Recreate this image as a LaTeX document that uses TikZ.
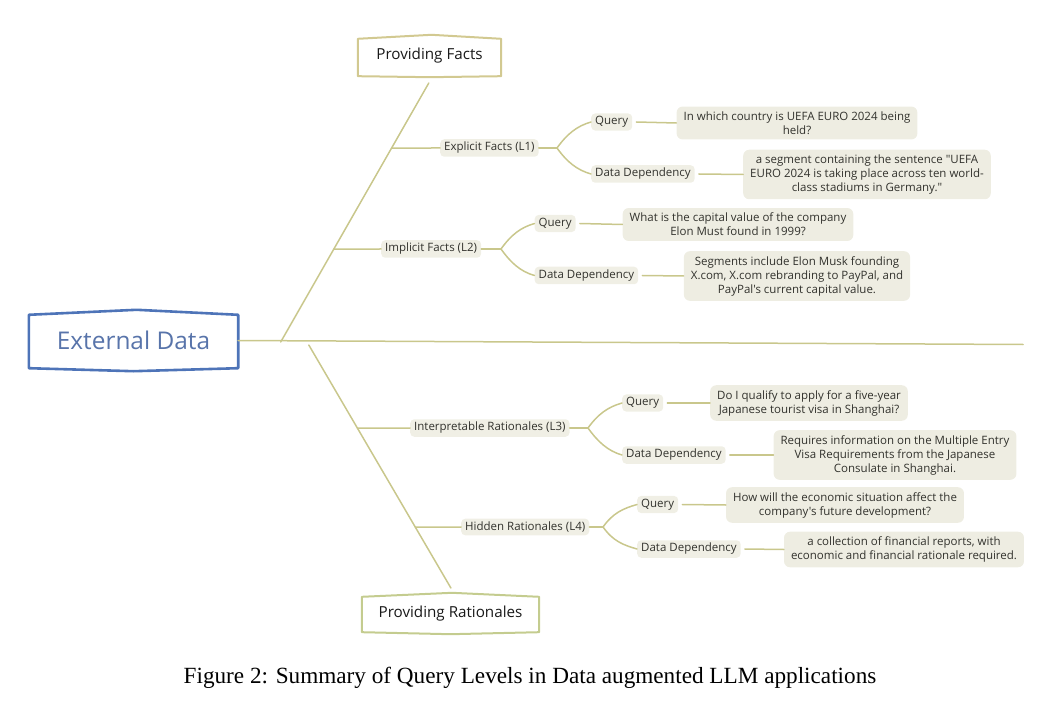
\documentclass[tikz,border=0pt]{standalone}
\usepackage{fontspec}
\setmainfont{Liberation Serif}
\newfontfamily\mapfont{Open Sans}
\usetikzlibrary{calc}
\definecolor{linecol}{RGB}{201,199,140}
\definecolor{lblbg}{RGB}{240,239,229}
\definecolor{ansbg}{RGB}{238,237,226}
\definecolor{txtcol}{RGB}{50,50,45}
\definecolor{extblue}{RGB}{78,116,184}
\definecolor{exttext}{RGB}{88,116,170}
\definecolor{pfcol}{RGB}{210,201,145}
\definecolor{prcol}{RGB}{196,204,143}
\begin{document}
\begin{tikzpicture}[x=1pt,y=-1pt,
  branch/.style={draw=linecol, line width=1.5pt, line cap=round},
  lbl/.style={fill=lblbg, rounded corners=4pt, inner xsep=4pt, inner ysep=3pt, anchor=west,
    font=\mapfont\fontsize{11.5}{14}\selectfont, text=txtcol},
  ans/.style={fill=ansbg, rounded corners=6pt, inner xsep=7pt, inner ysep=5pt, align=center,
    font=\mapfont\fontsize{11.5}{14}\selectfont, text=txtcol},
  titlebox/.style={inner sep=0pt, font=\mapfont\fontsize{15.2}{18}\selectfont, text=black!90}]
\useasboundingbox (0,0) rectangle (1049,703);

% main boxes
\node[titlebox, minimum width=209pt, minimum height=61pt, text=exttext,
  font=\mapfont\fontsize{24.4}{28}\selectfont] (ext) at (133.5,340.5) {External Data};
\node[titlebox, minimum width=143pt, minimum height=42pt] (pf) at (429.5,56) {Providing Facts};
\node[titlebox, minimum width=177pt, minimum height=41pt] (pr) at (450.5,613.5) {Providing Rationales};

\draw[draw=extblue, line width=2.6pt, line join=round]
  ($(ext.south west)+(0,-3)$) -- ($(ext.north west)+(0,5)$) -- ($(ext.north)+(3,0)$)
  -- ($(ext.north east)+(0,5)$) -- ($(ext.south east)+(0,-3)$) -- (ext.south) -- cycle;
\draw[draw=pfcol, line width=2pt, line join=round]
  ($(pf.south west)+(0,-1)$) -- ($(pf.north west)+(0,4)$) -- ($(pf.north)+(2,0)$)
  -- ($(pf.north east)+(0,4)$) -- ($(pf.south east)+(0,-1)$) -- (pf.south) -- cycle;
\draw[draw=prcol, line width=2pt, line join=round]
  ($(pr.south west)+(0,-2)$) -- ($(pr.north west)+(0,4)$) -- ($(pr.north)+(1.5,0)$)
  -- ($(pr.north east)+(0,4)$) -- ($(pr.south east)+(0,-2)$) -- (pr.south) -- cycle;

% skeleton
\coordinate (mainend) at (1023,344.5);
\coordinate (j1) at (280.7,342);
\coordinate (t1) at (428.8,83);
\coordinate (j2) at (308.8,345);
\coordinate (t2) at (450.9,588);
\draw[branch] (ext.east) -- (mainend);
\draw[branch] (j1) -- (t1);
\draw[branch] (j2) -- (t2);

% level labels
\node[lbl] (l1) at (440,148) {Explicit Facts (L1)};
\node[lbl] (l2) at (381,249) {Implicit Facts (L2)};
\node[lbl] (l3) at (410,428) {Interpretable Rationales (L3)};
\node[lbl] (l4) at (461,527) {Hidden Rationales (L4)};

\coordinate (b1) at ($(j1)!0.749!(t1)$);
\coordinate (b2) at ($(j1)!0.359!(t1)$);
\coordinate (b3) at ($(j2)!0.3416!(t2)$);
\coordinate (b4) at ($(j2)!0.749!(t2)$);
\draw[branch] (b1) -- (l1.west);
\draw[branch] (b2) -- (l2.west);
\draw[branch] (b3) -- (l3.west);
\draw[branch] (b4) -- (l4.west);

% query / data dependency labels
\node[lbl] (q1) at (591,122) {Query};
\node[lbl] (d1) at (591,174) {Data Dependency};
\node[lbl] (q2) at (534.5,223.5) {Query};
\node[lbl] (d2) at (534.5,275.5) {Data Dependency};
\node[lbl] (q3) at (622,403) {Query};
\node[lbl] (d3) at (622,455) {Data Dependency};
\node[lbl] (q4) at (637,504.5) {Query};
\node[lbl] (d4) at (637,549) {Data Dependency};

\coordinate (f1) at (557,148);
\coordinate (f2) at (501,249);
\coordinate (f3) at (588,428);
\coordinate (f4) at (603,527);

\foreach \l/\f/\q/\d in {l1/f1/q1/d1, l2/f2/q2/d2, l3/f3/q3/d3, l4/f4/q4/d4}{
  \draw[branch] (\l.east) -- (\f);
  \draw[branch] (\f) .. controls ($(\f)+(10,-14)$) and ($(\q.west)+(-14,4)$) .. (\q.west);
  \draw[branch] (\f) .. controls ($(\f)+(10,14)$) and ($(\d.west)+(-14,-4)$) .. (\d.west);
}

% answers
\node[ans] (a1) at (797,123) {In which country is UEFA EURO 2024 being\\held?};
\node[ans] (a2) at (867,174.5) {a segment containing the sentence "UEFA\\EURO 2024 is taking place across ten world-\\class stadiums in Germany."};
\node[ans] (a3) at (738,224.5) {What is the capital value of the company\\Elon Must found in 1999?};
\node[ans] (a4) at (797,276) {Segments include Elon Musk founding\\X.com, X.com rebranding to PayPal, and\\PayPal's current capital value.};
\node[ans] (a5) at (809,403) {Do I qualify to apply for a five-year\\Japanese tourist visa in Shanghai?};
\node[ans] (a6) at (895,455) {Requires information on the Multiple Entry\\Visa Requirements from the Japanese\\Consulate in Shanghai.};
\node[ans] (a7) at (845,505) {How will the economic situation affect the\\company's future development?};
\node[ans] (a8) at (904,549.5) {a collection of financial reports, with\\economic and financial rationale required.};

\foreach \q/\a in {q1/a1, d1/a2, q2/a3, d2/a4, q3/a5, d3/a6, q4/a7, d4/a8}{
  \draw[branch] (\q.east) ++(4,0) -- (\a.west);
}

% caption
\node[inner sep=0pt, font=\fontsize{23.2}{27}\selectfont, text=black] (cap) at (530,678)
  {Figure 2: Summary of Query Levels in Data augmented LLM applications};
\end{tikzpicture}
\end{document}
